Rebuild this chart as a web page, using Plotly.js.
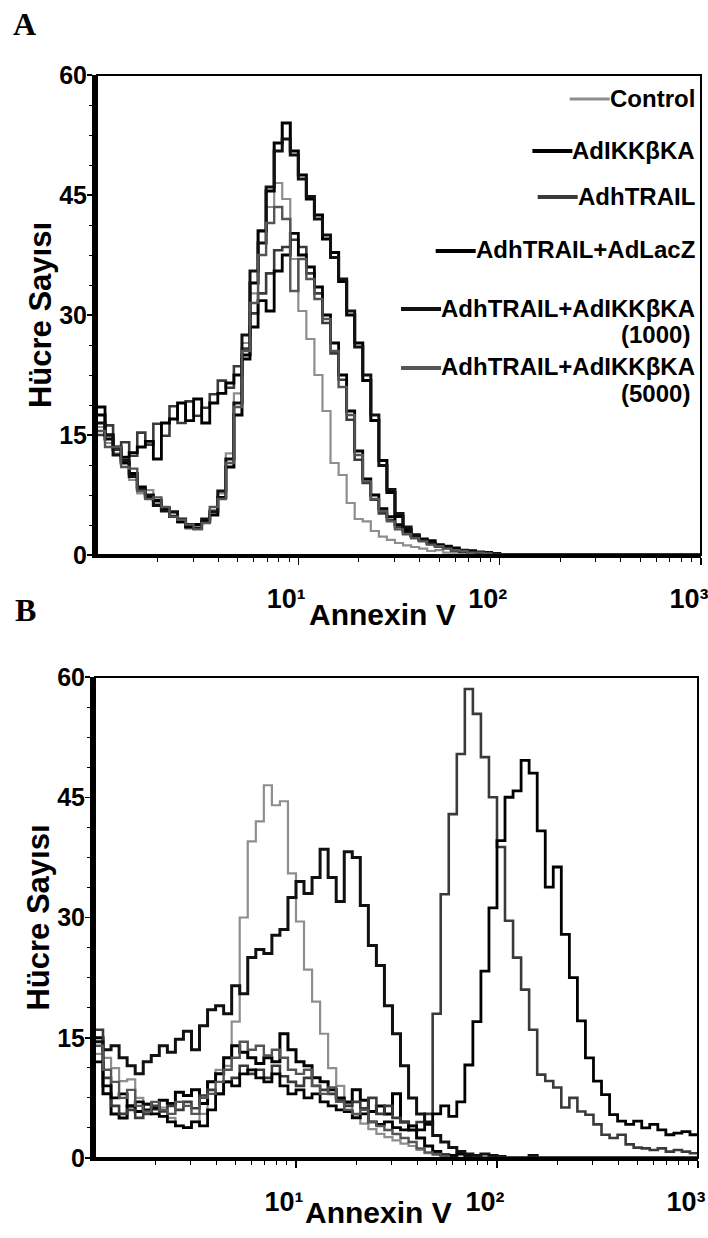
<!DOCTYPE html>
<html>
<head>
<meta charset="utf-8">
<script src="https://cdn.plot.ly/plotly-3.0.1.min.js"></script>
<style>html,body{margin:0;padding:0;background:#fff}</style>
</head>
<body>
<div id="chart" style="width:708px;height:1238px"></div>
<script>
// ---------- DATA ----------
// Annexin V channel positions (log scale bins)
const annexinBins = [
  1, 1.096, 1.202, 1.318, 1.445, 1.585, 1.738, 1.905, 2.089, 2.291, 2.512, 2.754, 3.020, 3.311, 3.631, 3.981, 4.365, 4.786, 5.248, 5.754, 6.310, 6.918, 7.586, 8.318, 9.120,
  10, 10.96, 12.02, 13.18, 14.45, 15.85, 17.38, 19.05, 20.89, 22.91, 25.12, 27.54, 30.20, 33.11, 36.31, 39.81, 43.65, 47.86, 52.48, 57.54, 63.10, 69.18, 75.86, 83.18, 91.20,
  100, 109.6, 120.2, 131.8, 144.5, 158.5, 173.8, 190.5, 208.9, 229.1, 251.2, 275.4, 302.0, 331.1, 363.1, 398.1, 436.5, 478.6, 524.8, 575.4, 631.0, 691.8, 758.6, 831.8, 912.0,
  1000
];

const seriesNames = [
  'Control',
  'AdIKKβKA',
  'AdhTRAIL',
  'AdhTRAIL+AdLacZ',
  'AdhTRAIL+AdIKKβKA (1000)',
  'AdhTRAIL+AdIKKβKA (5000)'
];

// Panel A – cell counts per bin
const panelA_control = [16,14,12.7,12.3,9.4,7.7,8.1,6.5,5.6,5.2, 4,3.3,3.5,4.4,5.6,7.7,12.7,20.2,26.5,32.7, 40.6,43.5,46.5,44.5,37,30.5,27,22.5,18,11.5, 10,6.5,4.5,4.2,3,2.3,1.9,1.5,1.2,1, 0.8,0.5,0.6,0.3,0.3,0.2,0,0,0,0, 0,0,0,0,0,0,0,0,0,0, 0,0,0,0,0,0,0,0,0,0, 0,0,0,0,0,0];
const panelA_ikk     = [17.5,14.5,13.2,11.5,10.2,8.5,7.2,6.8,5.8,4.8, 4.2,3.5,3.8,4.2,5,7.2,11,17.5,25,34, 40.5,45.5,51.5,54,50.5,47.5,44.5,42.5,39.5,37.8, 34.2,30,26.5,21.8,16.8,11.8,7.8,4.8,3.2,2.4, 1.9,1.4,1.2,1,0.7,0.5,0.5,0.3,0.2,0.2, 0,0,0,0,0,0,0,0,0,0, 0,0,0,0,0,0,0,0,0,0, 0,0,0,0,0,0];
const panelA_trail   = [15,16.2,13.2,14.1,12.4,15.3,13.8,16.4,14.9,18.6, 16.5,19.2,17.4,18.4,20.1,21.8,20.9,23.6,25.8,30.2, 32.7,35.2,38.1,38.5,39.4,38.5,35.2,32.7,29,25.2, 21.9,16.9,11.9,9,6.9,5.2,4.4,3.5,2.7,2.3, 1.9,1.5,1.2,1,0.7,0.5,0.4,0.3,0.2,0, 0,0,0,0,0,0,0,0,0,0, 0,0,0,0,0,0,0,0,0,0, 0,0,0,0,0,0];
const panelA_lacz    = [18.5,15,13.5,12.2,12.8,13.5,14.2,12,16.5,17, 19,16.8,19.5,16.5,19,20.2,21.5,22.5,24.5,28.5, 31.8,30.5,35.5,37.5,40.2,37.5,36,33.5,30,26.5, 22.5,18,13,9.5,7.5,5.8,4.8,3.8,3,2.5, 2,1.8,1.3,1.1,0.9,0.6,0.5,0.4,0.3,0.2, 0,0,0,0,0,0,0,0,0,0, 0,0,0,0,0,0,0,0,0,0, 0,0,0,0,0,0];
const panelA_1000    = [16.5,15,12.5,11.8,9.8,8.2,7.5,6.2,5.5,5.4, 4.5,3.8,3.3,4.5,5.4,8,12,19,27.5,35.5, 39,46,50.5,52,50,47,44.8,42,40,37.2, 34.5,30.5,26,22.5,17.5,11.2,8.2,5.2,3.5,2.5, 1.8,1.5,1.1,0.9,0.6,0.5,0.4,0.3,0.3,0.2, 0,0,0,0,0,0,0,0,0,0, 0,0,0,0,0,0,0,0,0,0, 0,0,0,0,0,0];
const panelA_5000    = [15.5,13.5,13.5,11,10.8,8,7,7.2,6,4.8, 4.4,3.8,3.2,4,6,7,11.5,18.5,25.5,31.5, 37.5,41.5,43.5,42,33,37,34.5,32,29.5,25.5, 21,17.5,12.5,9.2,7,5.5,4.2,3.2,2.6,2.1, 1.7,1.3,1.1,0.8,0.6,0.5,0.3,0.3,0.2,0, 0,0,0,0,0,0,0,0,0,0, 0,0,0,0,0,0,0,0,0,0, 0,0,0,0,0,0];

// Panel B – cell counts per bin
const panelB_control = [13,12.5,11.2,9.6,9.8,7.5,6.8,6,6.3,5, 4,3.8,4.5,5.5,9.5,11,11.5,17,30,39.5, 42,46.5,44,44.5,35.5,29.5,23.5,19.5,15.5,11.2, 9,6.8,5.2,4.3,3.6,3,2.6,2.2,1.8,1.5, 1,0.6,0.4,0.2,0,0,0,0,0,0, 0,0,0,0,0,0,0,0,0,0, 0,0,0,0,0,0,0,0,0,0, 0,0,0,0,0,0];
const panelB_ikk     = [15,8,5.5,5,6.5,5.8,6.7,6.2,7.2,6.8, 8.2,7.8,8.5,6.8,9.5,10.5,12.5,14,13.2,12.5, 11.8,12.5,12,15.5,13.5,12,11.5,10,9.5,8.5, 7.5,7,8.5,7.2,5.8,6.5,5.5,8,4.5,3.5, 2.5,1.5,0.8,0.4,0.3,0.5,0.3,0,0,0, 0,0,0,0,0,0,0,0,0,0, 0,0,0,0,0,0,0,0,0,0, 0,0,0,0,0,0];
const panelB_trail   = [16,10,6.5,5.5,6,5,5.5,6.5,5.8,6.5, 6,7,6.2,7.8,8.5,8,9.5,10,11.5,10.5, 11,10,11.5,10.2,9.5,9,10,9,8.5,8, 7.2,6.5,7,6.2,7.5,5.5,6.5,5,4.5,4, 4.5,5.5,18,32.9,42.9,50.4,58.5,55.4,50,45, 38.8,29.6,25,21,16,10.4,9.6,8.8,6.3,7.5, 5.8,5.4,4.2,2.9,2.5,2.9,1.7,1.3,1.2,1, 1.2,0.8,1,0.8,0.6,0.5];
const panelB_lacz    = [12,9,7.5,8,6.5,7,6,5.5,5.2,4.5, 4,3.8,4.5,4,6,8,9.5,9,10.5,11, 10,9.5,10.5,9,8,8.5,7.5,8,7,6.5, 6,5.8,5,5.5,4.5,4.2,4.5,3.8,3.5,4, 3.5,4.2,5.5,6.5,5.2,7,11.6,17,23.3,31.2, 39.6,45,45.8,49.6,48,40.8,33.8,36.3,27.9,22.5, 17.1,12.5,9.6,7.9,5.4,4.6,4.2,4.6,3.75,4.2, 3.5,2.9,3.1,3.3,2.9,3];
const panelB_1000    = [14.5,13.5,14,12.5,11.5,10.5,12,12.8,14,13.2, 14.8,15.8,13.5,16.5,18.5,19,18,21.5,20.5,25, 26,25.5,27.8,28.5,32.5,34.5,33,35,38.5,35, 32,38.2,37.5,31.5,26.5,24,19,15.5,11.5,7.5, 5.5,4.5,2.8,2,1.3,0.8,0.5,0.3,0.5,0.3, 0.2,0,0,0,0.3,0,0,0,0,0, 0,0,0,0,0,0,0,0,0,0, 0,0,0,0,0,0];
const panelB_5000    = [14,11,9.5,7.5,8.5,6.5,5.8,7,6,5.5, 7,6.5,5.5,7.5,8,9.5,11,12.5,14.5,13.5, 14,12.8,13.5,12.5,11,10.5,11,9,8,8.8, 7,6,5.5,6,4.5,4,3.5,3,2.5,2, 1.2,0.7,0.5,0.3,0,0,0,0,0,0, 0,0,0,0,0,0,0,0,0,0, 0,0,0,0,0,0,0,0,0,0, 0,0,0,0,0,0];

// Axis labels / ticks
const xTickVals = [10, 100, 1000];
const xTickText = ['10¹', '10²', '10³'];
const xMinorVals = [2,3,4,5,6,7,8,9, 20,30,40,50,60,70,80,90, 200,300,400,500,600,700,800,900];
const yTickVals = [0, 15, 30, 45, 60];
const yTitle = 'Hücre Sayısı';
const xTitle = 'Annexin V';
const panelLabels = ['A', 'B'];

// ---------- STYLE ----------
const W = 708, H = 1238;
const px = v => v / W;
const py = v => 1 - v / H;
const SANS = '"Liberation Sans", Arial, sans-serif';
const SERIF = '"Liberation Serif", "Times New Roman", serif';
const lineStyles = [
  {color: '#8e8e8e', width: 2.2},
  {color: '#000000', width: 3},
  {color: '#3a3a3a', width: 2.6},
  {color: '#000000', width: 2.8},
  {color: '#111111', width: 3},
  {color: '#555555', width: 2.4}
];

const panelA = [panelA_control, panelA_ikk, panelA_trail, panelA_lacz, panelA_1000, panelA_5000];
const panelB = [panelB_control, panelB_ikk, panelB_trail, panelB_lacz, panelB_1000, panelB_5000];

const traces = [];
function addPanel(data, xa, ya) {
  data.forEach((vals, i) => {
    traces.push({
      type: 'scatter', mode: 'lines', x: annexinBins, y: vals, name: seriesNames[i],
      xaxis: xa, yaxis: ya, showlegend: false, hoverinfo: 'skip',
      line: {color: lineStyles[i].color, width: lineStyles[i].width, shape: 'hv'}
    });
  });
}
addPanel(panelA, 'x', 'y');
addPanel(panelB, 'x2', 'y2');

const tickFont = {family: SANS, size: 25, color: '#000', weight: 'bold'};

function xAxis(domain, anchor) {
  return {
    domain, anchor, type: 'log', range: [0, 3],
    showgrid: false, zeroline: false, showline: true, linecolor: '#000', linewidth: 3,
    ticks: 'outside', ticklen: 7, tickwidth: 1.5, tickcolor: '#000',
    tickmode: 'array', tickvals: xTickVals, ticktext: xTickText,
    tickfont: {family: SANS, size: 27, color: '#000', weight: 'bold'},
    ticklabelshift: -12, ticklabelstandoff: 11, ticklabeloverflow: 'allow',
    minor: {tickmode: 'array', tickvals: xMinorVals, ticks: 'outside', ticklen: 4, tickwidth: 1, tickcolor: '#000'},
    automargin: false, fixedrange: true
  };
}
function yAxis(domain, anchor) {
  return {
    domain, anchor, range: [0, 60],
    showgrid: false, zeroline: false, showline: true, linecolor: '#000', linewidth: 5,
    ticks: 'outside', ticklen: 5, tickwidth: 1.5, tickcolor: '#000',
    tickmode: 'array', tickvals: yTickVals, tickfont: tickFont, ticklabelstandoff: -5,
    ticklabeloverflow: 'allow',
    minor: {dtick: 3.75, tick0: 0, ticks: 'outside', ticklen: 3, tickwidth: 1, tickcolor: '#000'},
    title: {text: yTitle, font: {family: SANS, size: 31, color: '#000', weight: 'bold'}, standoff: 0},
    automargin: false, fixedrange: true
  };
}

// legend (drawn as right-aligned text with line samples, as in the original)
const legendFont = {family: SANS, size: 24, color: '#000', weight: 'bold'};
const legendRows = [98, 150, 196, 250, 308, 367];
const legendRight = 697;
const ctx = document.createElement('canvas').getContext('2d');
ctx.font = 'bold 24px "Liberation Sans"';

const annotations = [];
const shapes = [];
seriesNames.forEach((name, i) => {
  const parts = name.split(' (');
  const first = parts[0];
  annotations.push({xref: 'paper', yref: 'paper', x: px(legendRight), y: py(legendRows[i]),
    xanchor: 'right', yanchor: 'middle', text: first, showarrow: false, font: legendFont});
  if (parts.length > 1) {
    annotations.push({xref: 'paper', yref: 'paper', x: px(legendRight - 5), y: py(legendRows[i] + 26),
      xanchor: 'right', yanchor: 'middle', text: '(' + parts[1], showarrow: false, font: legendFont});
  }
  const tw = ctx.measureText(first).width;
  const x1 = legendRight - tw - 2;
  shapes.push({type: 'line', xref: 'paper', yref: 'paper', x0: px(x1 - 40), x1: px(x1),
    y0: py(legendRows[i] + 1), y1: py(legendRows[i] + 1),
    line: {color: lineStyles[i].color, width: i === 0 ? 3 : 4}});
});

// x-axis titles (placed between tick labels as in the original)
annotations.push({xref: 'paper', yref: 'paper', x: px(382), y: py(614), xanchor: 'center', yanchor: 'middle',
  text: xTitle, showarrow: false, font: {family: SANS, size: 30, color: '#000', weight: 'bold'}});
annotations.push({xref: 'paper', yref: 'paper', x: px(378), y: py(1212), xanchor: 'center', yanchor: 'middle',
  text: xTitle, showarrow: false, font: {family: SANS, size: 30, color: '#000', weight: 'bold'}});

// panel letters
annotations.push({xref: 'paper', yref: 'paper', x: px(11), y: py(24), xanchor: 'left', yanchor: 'middle',
  text: panelLabels[0], showarrow: false, font: {family: SERIF, size: 32, color: '#000', weight: 'bold'}});
annotations.push({xref: 'paper', yref: 'paper', x: px(13), y: py(610), xanchor: 'left', yanchor: 'middle',
  text: panelLabels[1], showarrow: false, font: {family: SERIF, size: 32, color: '#000', weight: 'bold'}});

// frames
shapes.push({type: 'rect', xref: 'x domain', yref: 'y domain', x0: 0, x1: 1, y0: 0, y1: 1, line: {color: '#000', width: 2}, layer: 'above'});
shapes.push({type: 'rect', xref: 'x2 domain', yref: 'y2 domain', x0: 0, x1: 1, y0: 0, y1: 1, line: {color: '#000', width: 2}, layer: 'above'});

const layout = {
  width: W, height: H,
  margin: {l: 0, r: 0, t: 0, b: 0},
  paper_bgcolor: '#fff', plot_bgcolor: '#fff',
  showlegend: false,
  font: {family: SANS, color: '#000'},
  xaxis: xAxis([px(97), px(701)], 'y'),
  yaxis: yAxis([py(555), py(75)], 'x'),
  xaxis2: xAxis([px(95), px(698)], 'y2'),
  yaxis2: yAxis([py(1158), py(677)], 'x2'),
  annotations, shapes
};

Plotly.newPlot('chart', traces, layout, {staticPlot: true, displayModeBar: false});
</script>
</body>
</html>
